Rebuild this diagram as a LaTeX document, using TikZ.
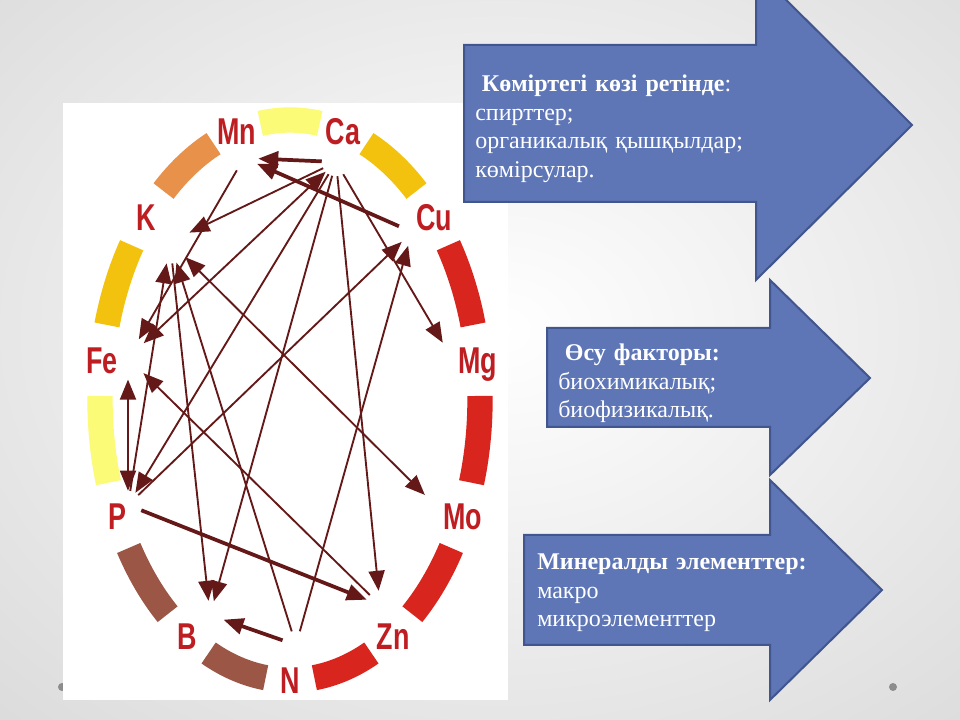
\documentclass[tikz,border=0pt]{standalone}
\usepackage{fontspec}
\setmainfont{Liberation Serif}
\newfontfamily\elemfont[FakeStretch=0.72]{Liberation Sans}
\usetikzlibrary{arrows.meta}
\definecolor{elemred}{HTML}{BE1E22}
\definecolor{linkred}{HTML}{651818}
\definecolor{ringred}{HTML}{D8261E}
\definecolor{ringgold}{HTML}{F3C20E}
\definecolor{ringpale}{HTML}{FBFB78}
\definecolor{ringorange}{HTML}{E8914A}
\definecolor{ringbrown}{HTML}{9B5646}
\definecolor{arrowblue}{HTML}{5E76B6}
\definecolor{arrowedge}{HTML}{41558E}
\definecolor{bggray}{HTML}{D0D0D0}
\definecolor{dotgray}{HTML}{8C8C8C}

\begin{document}
\begin{tikzpicture}[x=0.75pt, y=0.75pt,
  elem/.style={text=elemred, font=\elemfont\bfseries\fontsize{28}{28}\selectfont, inner sep=0pt, text height=20pt, text depth=0pt},
  port/.style={circle, inner sep=0pt, minimum size=21pt},
  wideport/.style={port, minimum size=32pt},
  ring/.style={line width=19pt},
  link/.style={-{Triangle[length=15pt, width=12pt]}, draw=linkred, line width=1.4pt},
  both/.style={link, {Triangle[length=15pt, width=12pt]}-{Triangle[length=15pt, width=12pt]}},
  heavy/.style={link, line width=2.8pt},
  bigarrow/.style={fill=arrowblue, draw=arrowedge, line width=1.5pt},
  note/.style={anchor=base west, inner sep=0pt, text width=270pt, align=left, text=white, font=\fontsize{18}{21.3}\selectfont}
]
  \path[use as bounding box, clip] (0,0) rectangle (960,720);
  \shade[inner color=white, outer color=bggray] (-460,-330) rectangle (1460,1110);
  \fill[dotgray] (62,33) circle[radius=4];
  \fill[dotgray] (893,33) circle[radius=4];
  \fill[white] (63,20) rectangle (508,617);

  \draw[ring, draw=ringred] (290,320) ++(-82.64:190 and 280) arc[start angle=-82.64, end angle=-64.64, x radius=190, y radius=280];
  \draw[ring, draw=ringred] (290,320) ++(-49.91:190 and 280) arc[start angle=-49.91, end angle=-31.91, x radius=190, y radius=280];
  \draw[ring, draw=ringred] (290,320) ++(-17.18:190 and 280) arc[start angle=-17.18, end angle=0.82, x radius=190, y radius=280];
  \draw[ring, draw=ringred] (290,320) ++(15.55:190 and 280) arc[start angle=15.55, end angle=33.55, x radius=190, y radius=280];
  \draw[ring, draw=ringgold] (290,320) ++(48.27:190 and 280) arc[start angle=48.27, end angle=66.27, x radius=190, y radius=280];
  \draw[ring, draw=ringpale] (290,320) ++(81:190 and 280) arc[start angle=81, end angle=99, x radius=190, y radius=280];
  \draw[ring, draw=ringorange] (290,320) ++(113.73:190 and 280) arc[start angle=113.73, end angle=131.73, x radius=190, y radius=280];
  \draw[ring, draw=ringgold] (290,320) ++(146.45:190 and 280) arc[start angle=146.45, end angle=164.45, x radius=190, y radius=280];
  \draw[ring, draw=ringpale] (290,320) ++(179.18:190 and 280) arc[start angle=179.18, end angle=197.18, x radius=190, y radius=280];
  \draw[ring, draw=ringbrown] (290,320) ++(211.91:190 and 280) arc[start angle=211.91, end angle=229.91, x radius=190, y radius=280];
  \draw[ring, draw=ringbrown] (290,320) ++(244.64:190 and 280) arc[start angle=244.64, end angle=262.64, x radius=190, y radius=280];

  \node[elem] (n_name) at (290,40) {N};
  \node[elem] (zn_name) at (393,84) {Zn};
  \node[elem] (mo_name) at (463,204) {Mo};
  \node[elem] (mg_name) at (478,360) {Mg};
  \node[elem] (cu_name) at (434,503) {Cu};
  \node[elem] (ca_name) at (343,589) {Ca};
  \node[elem] (mn_name) at (237,589) {Mn};
  \node[elem] (k_name) at (146,503) {K};
  \node[elem] (fe_name) at (102,360) {Fe};
  \node[elem] (p_name) at (117,204) {P};
  \node[elem] (b_name) at (187,84) {B};

  \node[port] (ca) at (336,558) {};
  \node[port] (mn) at (244,562) {};
  \node[wideport] (k) at (170,478) {};
  \node[port] (cu) at (412,488) {};
  \node[port] (mg) at (450,365) {};
  \node[wideport] (fe) at (128,362) {};
  \node[port] (p) at (128,215) {};
  \node[port] (b) at (210,105) {};
  \node[port] (zn) at (380,115) {};
  \node[port] (n) at (296,75) {};
  \node[port] (mo) at (435,215) {};

  \draw[heavy] (ca) -- (mn);
  \draw[heavy] (cu) -- (mn);
  \draw[link] (ca) -- (k);
  \draw[both] (ca) -- (fe);
  \draw[link] (ca) -- (p);
  \draw[link] (ca) -- (b);
  \draw[link] (ca) -- (zn);
  \draw[link] (ca) -- (mg);
  \draw[link] (mn) -- (fe);
  \draw[both] (k) -- (mo);
  \draw[link] (n) -- (k);
  \draw[link] (p) -- (k);
  \draw[link] (k) -- (b);
  \draw[both] (fe) -- (p);
  \draw[link] (zn) -- (fe);
  \draw[link] (p) -- (cu);
  \draw[link] (n) -- (cu);
  \draw[heavy] (n) -- (b);
  \draw[heavy] (p) -- (zn);

  \draw[bigarrow] (464,675) -- (756,675) -- (756,750) -- (912,595) -- (756,440) -- (756,518) -- (464,518) -- cycle;
  \draw[bigarrow] (547,392) -- (770,392) -- (770,440) -- (870,342) -- (770,245) -- (770,293) -- (547,293) -- cycle;
  \draw[bigarrow] (524,185) -- (770,185) -- (770,240) -- (882,130) -- (770,20) -- (770,75) -- (524,75) -- cycle;

  \node[note] (carbon) at (475,628) {\hspace*{5pt}\textbf{Көміртегі көзі ретінде}:\\спирттер;\\органикалық қышқылдар;\\көмірсулар.};
  \node[note] (growth) at (558,359) {\hspace*{5pt}\textbf{Өсу факторы:}\\биохимикалық;\\биофизикалық.};
  \node[note] (mineral) at (537,150) {\textbf{Минералды элементтер:}\\макро\\микроэлементтер};
\end{tikzpicture}
\end{document}
